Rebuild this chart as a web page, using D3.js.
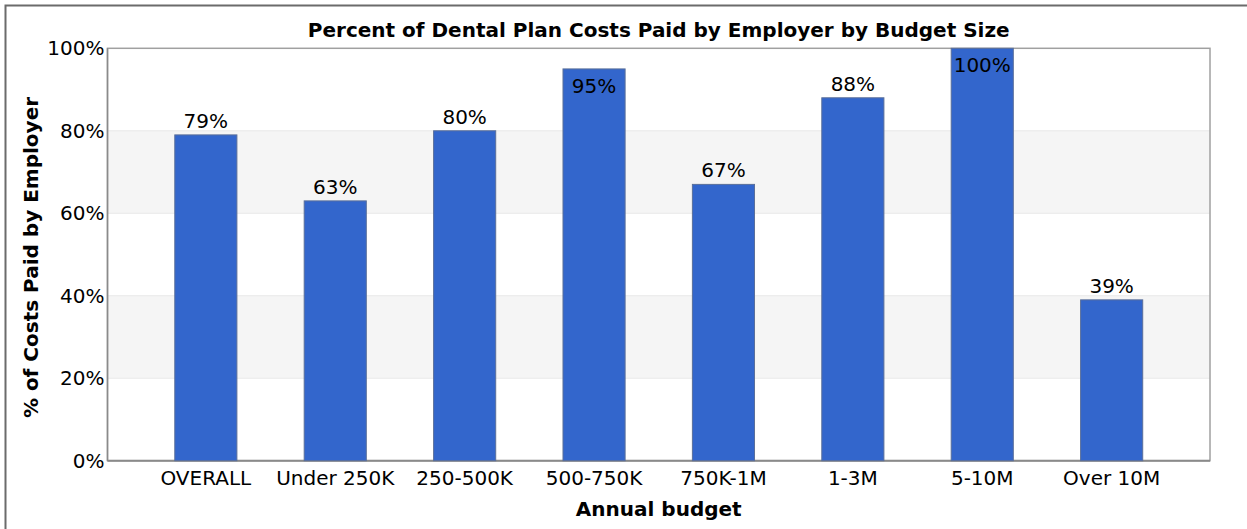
<!DOCTYPE html>
<html>
<head>
<meta charset="utf-8">
<script src="https://cdn.jsdelivr.net/npm/d3@7"></script>
<style>
  html, body { margin: 0; padding: 0; background: #fff; }
  svg { display: block; }
  text { font-family: "DejaVu Sans", Verdana, sans-serif; fill: #000; }
</style>
</head>
<body>
<svg id="chart" width="1247" height="529"></svg>
<script>
// Share of dental plan cost covered by the employer, per annual budget bracket
const categories = ["OVERALL", "Under 250K", "250-500K", "500-750K", "750K-1M", "1-3M", "5-10M", "Over 10M"];
const values = [79, 63, 80, 95, 67, 88, 100, 39];
const yTicks = [0, 20, 40, 60, 80, 100];

const W = 1247, H = 529;
const plot = { left: 107.5, top: 48.3, right: 1210, bottom: 460.7 };

const svg = d3.select("#chart");

// outer frame
svg.append("rect")
  .attr("x", 5.5).attr("y", 5.5)
  .attr("width", 1400).attr("height", 700)
  .attr("fill", "none").attr("stroke", "#6b6b6b").attr("stroke-width", 2);

const x = d3.scaleBand()
  .domain(categories)
  .range([plot.left, plot.right])
  .padding(0.52);

const y = d3.scaleLinear()
  .domain([0, 100])
  .range([plot.bottom, plot.top]);

// alternating shaded bands (20–40, 60–80)
const bandPairs = d3.pairs(yTicks).filter((d, i) => i % 2 === 1);
svg.append("g").selectAll("rect")
  .data(bandPairs)
  .join("rect")
  .attr("x", plot.left)
  .attr("width", plot.right - plot.left)
  .attr("y", d => y(d[1]))
  .attr("height", d => y(d[0]) - y(d[1]))
  .attr("fill", "#f5f5f5");

// horizontal gridlines
svg.append("g").selectAll("line")
  .data(yTicks.slice(1, -1))
  .join("line")
  .attr("x1", plot.left).attr("x2", plot.right)
  .attr("y1", d => y(d)).attr("y2", d => y(d))
  .attr("stroke", "#e8e8e8").attr("stroke-width", 1);

// plot frame
svg.append("rect")
  .attr("x", plot.left).attr("y", plot.top)
  .attr("width", plot.right - plot.left)
  .attr("height", plot.bottom - plot.top)
  .attr("fill", "none").attr("stroke", "#a0a0a0").attr("stroke-width", 1.5);
svg.append("line")
  .attr("x1", plot.left).attr("x2", plot.right)
  .attr("y1", plot.bottom).attr("y2", plot.bottom)
  .attr("stroke", "#8a8a8a").attr("stroke-width", 2);
svg.append("line")
  .attr("x1", plot.left).attr("x2", plot.left)
  .attr("y1", plot.top).attr("y2", plot.bottom)
  .attr("stroke", "#8a8a8a").attr("stroke-width", 1.5);

// bars
svg.append("g").selectAll("rect")
  .data(categories)
  .join("rect")
  .attr("x", d => x(d))
  .attr("width", x.bandwidth())
  .attr("y", (d, i) => y(values[i]))
  .attr("height", (d, i) => y(0) - y(values[i]))
  .attr("fill", "#3366cc")
  .attr("stroke", "#5a6f9a")
  .attr("stroke-width", 1);

// value labels: above the bar, or just inside the top when there is no room
svg.append("g").selectAll("text")
  .data(categories)
  .join("text")
  .attr("x", d => x(d) + x.bandwidth() / 2)
  .attr("y", (d, i) => {
    const top = y(values[i]);
    return (top - 24 < plot.top) ? top + 24 : top - 7;
  })
  .attr("text-anchor", "middle")
  .attr("font-size", 20)
  .text((d, i) => values[i] + "%");

// y tick labels
svg.append("g").selectAll("text")
  .data(yTicks)
  .join("text")
  .attr("x", plot.left - 3)
  .attr("y", d => y(d) + 7)
  .attr("text-anchor", "end")
  .attr("font-size", 20)
  .text(d => d + "%");

// x tick labels
svg.append("g").selectAll("text")
  .data(categories)
  .join("text")
  .attr("x", d => x(d) + x.bandwidth() / 2)
  .attr("y", 485)
  .attr("text-anchor", "middle")
  .attr("font-size", 20)
  .text(d => d);

// title
svg.append("text")
  .attr("x", (plot.left + plot.right) / 2)
  .attr("y", 37)
  .attr("text-anchor", "middle")
  .attr("font-size", 20)
  .attr("font-weight", "bold")
  .text("Percent of Dental Plan Costs Paid by Employer by Budget Size");

// axis titles
svg.append("text")
  .attr("x", (plot.left + plot.right) / 2)
  .attr("y", 516)
  .attr("text-anchor", "middle")
  .attr("font-size", 20)
  .attr("font-weight", "bold")
  .text("Annual budget");

svg.append("text")
  .attr("transform", `translate(38, ${(plot.top + plot.bottom) / 2 + 3}) rotate(-90)`)
  .attr("text-anchor", "middle")
  .attr("font-size", 20)
  .attr("font-weight", "bold")
  .text("% of Costs Paid by Employer");
</script>
</body>
</html>
